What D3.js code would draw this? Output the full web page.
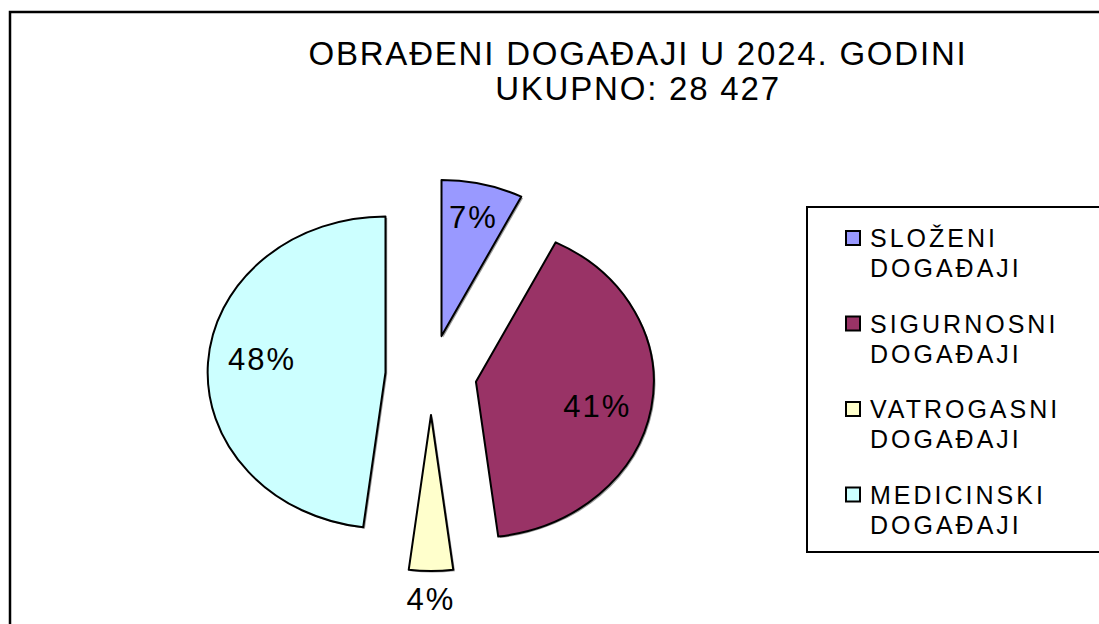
<!DOCTYPE html>
<html>
<head>
<meta charset="utf-8">
<script src="https://cdn.jsdelivr.net/npm/d3@7"></script>
<style>
  html, body { margin: 0; padding: 0; background: #fff; }
  svg text { font-family: "Liberation Sans", Arial, sans-serif; fill: #000; }
</style>
</head>
<body>
<div id="chart"></div>
<script>
// data
const categories = ["SLOŽENI DOGAĐAJI", "SIGURNOSNI DOGAĐAJI", "VATROGASNI DOGAĐAJI", "MEDICINSKI DOGAĐAJI"];
const counts = [2104, 11541, 1137, 13645];
const colors = ["#9999FF", "#993366", "#FFFFCC", "#CCFFFF"];
const titleText = "OBRAĐENI DOGAĐAJI U 2024. GODINI";

const width = 1099, height = 624;
const total = d3.sum(counts);
const fmtTotal = d3.formatLocale({ decimal: ",", thousands: " ", grouping: [3], currency: ["", ""] }).format(",");
const fmtPct = d3.format(".0%");

const svg = d3.select("#chart").append("svg")
  .attr("width", width)
  .attr("height", height);

// chart border (right and bottom sides are cut off)
svg.append("rect")
  .attr("x", 10).attr("y", 12)
  .attr("width", 1200).attr("height", 700)
  .attr("fill", "none").attr("stroke", "#000").attr("stroke-width", 2.5);

// title
const title = svg.append("text")
  .attr("text-anchor", "middle")
  .style("font-size", "33px")
  .style("letter-spacing", "1.8px");
title.append("tspan").attr("x", 638).attr("y", 65).text(titleText);
title.append("tspan").attr("x", 638).attr("y", 100).text("UKUPNO: " + fmtTotal(total));

// pie
const cx = 431, cy = 375, radius = 156, sx = 1.14, explode = 40;
const pie = d3.pie().sort(null).value(d => d).startAngle(0);
const arc = d3.arc().innerRadius(0).outerRadius(radius);
const arcs = pie(counts);

const pieG = svg.append("g")
  .attr("transform", "translate(" + cx + "," + cy + ") scale(" + sx + ",1)");

function offset(d) {
  const a = (d.startAngle + d.endAngle) / 2;
  return [explode * Math.sin(a), -explode * Math.cos(a)];
}

// soft shadow
pieG.selectAll("path.shadow")
  .data(arcs)
  .enter()
  .append("path")
  .attr("class", "shadow")
  .attr("d", arc)
  .attr("transform", d => { const o = offset(d); return "translate(" + (o[0] + 1.5) + "," + (o[1] + 1.5) + ")"; })
  .attr("fill", "#9a9a9a");

pieG.selectAll("path.slice")
  .data(arcs)
  .enter()
  .append("path")
  .attr("class", "slice")
  .attr("d", arc)
  .attr("transform", d => { const o = offset(d); return "translate(" + o[0] + "," + o[1] + ")"; })
  .attr("fill", (d, i) => colors[i])
  .attr("stroke", "#000")
  .attr("stroke-width", 2)
  .attr("stroke-linejoin", "round")
  .attr("vector-effect", "non-scaling-stroke");

// percent labels: inside for wide slices, outside for thin ones
svg.selectAll("text.pct")
  .data(arcs)
  .enter()
  .append("text")
  .attr("class", "pct")
  .attr("text-anchor", "middle")
  .attr("dominant-baseline", "central")
  .style("font-size", "31px")
  .style("letter-spacing", "2px")
  .attr("transform", d => {
    const share = d.value / total;
    let a = (d.startAngle + d.endAngle) / 2;
    let r;
    if (share < 0.05) r = radius + 28;
    else if (share < 0.1) r = radius * 0.78;
    else { r = radius * 0.7; a += 0.06; }
    const o = offset(d);
    const x = cx + sx * (o[0] + r * Math.sin(a));
    const y = cy + o[1] - r * Math.cos(a);
    return "translate(" + x + "," + y + ")";
  })
  .text(d => fmtPct(d.value / total));

// legend
const legend = svg.append("g");
legend.append("rect")
  .attr("x", 807).attr("y", 207)
  .attr("width", 400).attr("height", 345)
  .attr("fill", "#fff").attr("stroke", "#000").attr("stroke-width", 2);

const items = legend.selectAll("g.item")
  .data(categories)
  .enter()
  .append("g")
  .attr("class", "item")
  .attr("transform", (d, i) => "translate(846," + (230 + i * 85.5) + ")");

items.append("rect")
  .attr("x", 0).attr("y", 1)
  .attr("width", 14).attr("height", 14)
  .attr("fill", (d, i) => colors[i])
  .attr("stroke", "#000").attr("stroke-width", 2);

const lbl = items.append("text")
  .style("font-size", "25px")
  .style("letter-spacing", "3px");
lbl.selectAll("tspan")
  .data(d => d.split(" "))
  .enter()
  .append("tspan")
  .attr("x", 24)
  .attr("y", (d, i) => 17 + i * 30)
  .text(d => d);
</script>
</body>
</html>
